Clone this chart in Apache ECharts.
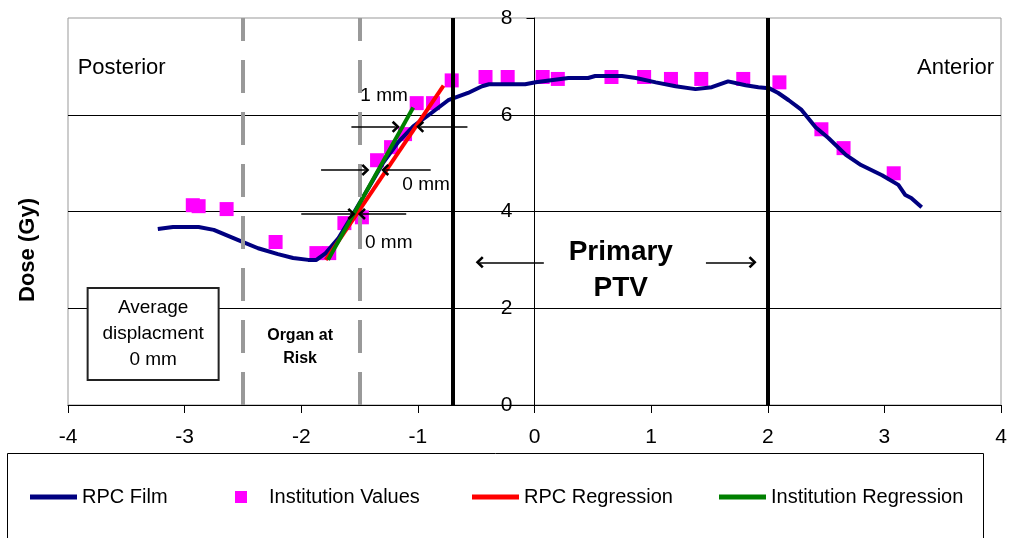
<!DOCTYPE html>
<html>
<head>
<meta charset="utf-8">
<script src="https://cdn.jsdelivr.net/npm/echarts@6/dist/echarts.min.js"></script>
<style>html,body{margin:0;padding:0;background:#fff}#c{width:1019px;height:538px}</style>
</head>
<body>
<div id="c"></div>
<script>
// ---- data ----
const xRange = [-4, 4];
const yRange = [0, 8];
const rpcFilm = [[-3.23,3.64],[-3.10,3.68],[-2.88,3.68],[-2.75,3.62],[-2.54,3.41],[-2.37,3.24],[-2.20,3.12],[-2.07,3.04],[-1.94,3.00],[-1.87,3.00],[-1.79,3.14],[-1.68,3.45],[-1.55,3.97],[-1.42,4.50],[-1.30,5.00],[-1.17,5.43],[-1.04,5.76],[-0.91,5.99],[-0.74,6.30],[-0.57,6.45],[-0.45,6.59],[-0.39,6.63],[-0.08,6.63],[0.01,6.67],[0.29,6.76],[0.46,6.76],[0.52,6.80],[0.75,6.80],[0.87,6.76],[1.04,6.67],[1.21,6.59],[1.38,6.53],[1.52,6.57],[1.66,6.69],[1.81,6.61],[1.92,6.57],[2.01,6.55],[2.09,6.45],[2.18,6.30],[2.29,6.10],[2.41,5.74],[2.52,5.52],[2.67,5.17],[2.80,4.96],[2.98,4.75],[3.12,4.55],[3.18,4.34],[3.23,4.28],[3.32,4.09]];
const institutionValues = [[-2.93,4.13],[-2.88,4.11],[-2.64,4.05],[-2.22,3.37],[-1.87,3.14],[-1.76,3.14],[-1.63,3.76],[-1.48,3.88],[-1.35,5.06],[-1.23,5.33],[-1.11,5.60],[-1.01,6.24],[-0.87,6.24],[-0.71,6.71],[-0.42,6.78],[-0.23,6.78],[0.07,6.78],[0.20,6.74],[0.66,6.78],[0.94,6.78],[1.17,6.74],[1.43,6.74],[1.79,6.74],[2.10,6.67],[2.46,5.70],[2.65,5.31],[3.08,4.79]];
const rpcRegression = [[-1.79,3.00],[-0.78,6.60]];
const institutionRegression = [[-1.77,3.00],[-1.04,6.15]];
const ptvBounds = [-0.7, 2];
const oarBounds = [-2.5, -1.5];
const seriesNames = ['RPC Film', 'Institution Values', 'RPC Regression', 'Institution Regression'];

// annotation arrows (data coords): [from, to]
const arrows = [
  [[-1.57,5.75],[-1.19,5.75]], [[-0.575,5.75],[-0.98,5.75]],
  [[-1.83,4.86],[-1.45,4.86]], [[-0.89,4.86],[-1.28,4.86]],
  [[-2.00,3.95],[-1.57,3.95]], [[-1.10,3.95],[-1.48,3.95]],
  [[0.08,2.95],[-0.47,2.95]], [[1.47,2.95],[1.87,2.95]]
];
const notes = [
  {text:'Posterior', at:[-3.54,6.96]},
  {text:'Anterior', at:[3.61,6.96]},
  {text:'1 mm', at:[-1.29,6.40]},
  {text:'0 mm', at:[-0.93,4.55]},
  {text:'0 mm', at:[-1.25,3.35]},
  {text:'Primary\nPTV', at:[0.74,2.79], kind:'big'},
  {text:'Organ at\nRisk', at:[-2.01,1.20], kind:'oar'},
  {text:'Average\ndisplacment\n0 mm', at:[-3.27,1.47], kind:'box'}
];

const FONT = 'Liberation Sans, Arial, sans-serif';
const chevron = 'path://M10,0 L20,10 L17,13 L10,6 L3,13 L0,10 Z';
const GRID_LEFT = 68;

function noteItem(n) {
  const label = {show:true, position:'inside', formatter:n.text, color:'#000', fontFamily:FONT, fontSize:19};
  if (n.kind === 'big') Object.assign(label, {fontSize:28, fontWeight:'bold', lineHeight:36});
  else if (n.kind === 'oar') Object.assign(label, {fontSize:16, fontWeight:'bold', lineHeight:23});
  else if (n.kind === 'box') Object.assign(label, {fontSize:19, lineHeight:26, width:129, align:'center',
      padding:[6,0,6,0], backgroundColor:'#fff', borderColor:'#222', borderWidth:2});
  else if (n.text === 'Posterior' || n.text === 'Anterior') label.fontSize = 22;
  return {coord:n.at, symbol:'rect', symbolSize:1, itemStyle:{color:'rgba(0,0,0,0)'}, label};
}

const vLines = [];
ptvBounds.forEach(v => vLines.push([{coord:[v, yRange[0]], lineStyle:{color:'#000', width:4, type:'solid'}}, {coord:[v, yRange[1]]}]));
oarBounds.forEach(v => vLines.push([{coord:[v, yRange[0]], lineStyle:{color:'#999', width:4, type:[33,19]}}, {coord:[v, yRange[1]]}]));

const legendBase = {orient:'horizontal', padding:0, top:486, selectedMode:false,
  textStyle:{fontSize:20, color:'#000', fontFamily:FONT, lineHeight:22}};

const chart = echarts.init(document.getElementById('c'), null, {renderer:'canvas'});
chart.setOption({
  animation:false,
  backgroundColor:'#fff',
  grid:{left:GRID_LEFT, right:18, top:18, bottom:133, show:true, borderColor:'#999', borderWidth:1},
  xAxis:{type:'value', min:xRange[0], max:xRange[1], interval:1,
    axisLine:{lineStyle:{color:'#000', width:1}},
    axisTick:{show:true, length:8, lineStyle:{color:'#000'}},
    axisLabel:{fontSize:21, color:'#000', fontFamily:FONT, margin:22},
    splitLine:{show:false}},
  yAxis:{type:'value', min:yRange[0], max:yRange[1], interval:2, position:'left', offset:0,
    axisLine:{show:true, onZero:false, lineStyle:{color:'#000', width:1}},
    axisTick:{show:true, length:8, lineStyle:{color:'#000'}},
    axisLabel:{fontSize:21, color:'#000', fontFamily:FONT, margin:22},
    splitLine:{show:true, showMinLine:false, showMaxLine:false, lineStyle:{color:'#000', width:1}}},
  legend:[
    Object.assign({}, legendBase, {data:[{name:seriesNames[0], icon:'rect'}], left:30, itemWidth:47, itemHeight:5}),
    Object.assign({}, legendBase, {data:[{name:seriesNames[1], icon:'rect'}], left:235, itemWidth:12, itemHeight:12,
      textStyle:Object.assign({}, legendBase.textStyle, {padding:[0,0,0,17]})}),
    Object.assign({}, legendBase, {data:[{name:seriesNames[2], icon:'rect'}], left:472, itemWidth:47, itemHeight:5}),
    Object.assign({}, legendBase, {data:[{name:seriesNames[3], icon:'rect'}], left:719, itemWidth:47, itemHeight:5})
  ],
  graphic:[
    {type:'rect', shape:{x:7.5, y:453.5, width:976, height:100}, style:{fill:'none', stroke:'#000', lineWidth:1}, z:-1, silent:true},
    {type:'text', x:28, y:250, rotation:Math.PI/2, style:{text:'Dose (Gy)', font:'bold 22px ' + FONT, fill:'#000', textAlign:'center', textVerticalAlign:'middle'}}
  ],
  series:[
    {name:seriesNames[0], type:'line', data:rpcFilm, symbol:'none', smooth:false,
      lineStyle:{color:'#000080', width:4}, itemStyle:{color:'#000080'},
      markLine:{silent:true, symbol:['none','none'], label:{show:false}, data:vLines}},
    {name:seriesNames[2], type:'line', data:rpcRegression, symbol:'none',
      lineStyle:{color:'#ff0000', width:4}, itemStyle:{color:'#ff0000'}},
    {name:seriesNames[3], type:'line', data:institutionRegression, symbol:'none',
      lineStyle:{color:'#008000', width:4}, itemStyle:{color:'#008000'}},
    {name:seriesNames[1], type:'scatter', data:institutionValues, symbol:'rect', symbolSize:14,
      itemStyle:{color:'#ff00ff', opacity:1},
      markLine:{silent:true, symbol:['none', chevron], symbolSize:[12,8], label:{show:false},
        lineStyle:{color:'#000', width:1.5, type:'solid'},
        data:arrows.map(a => [{coord:a[0]}, {coord:a[1]}])},
      markPoint:{silent:true, data:notes.map(noteItem)}}
  ]
});
// place the value axis where x = 0 (axis crossing as in the original)
const zeroPx = chart.convertToPixel({xAxisIndex:0}, 0);
chart.setOption({yAxis:{offset: GRID_LEFT - zeroPx}});
</script>
</body>
</html>
